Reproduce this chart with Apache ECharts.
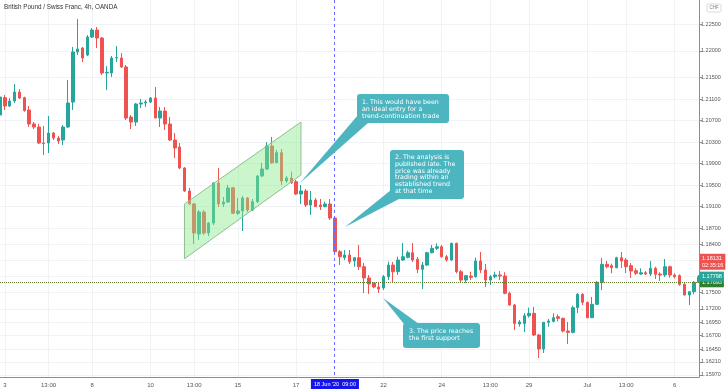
<!DOCTYPE html>
<html>
<head>
<meta charset="utf-8">
<script src="https://cdn.jsdelivr.net/npm/echarts@6/dist/echarts.min.js"></script>
<style>
html,body{margin:0;padding:0;background:#fff;}
#c{width:728px;height:391px;}
</style>
</head>
<body>
<div id="c"></div>
<script>
// ---- data ----
const title = "British Pound / Swiss Franc, 4h, OANDA";
// candles: [open, close, low, high], 4h bars
const candles = [
[1.20806,1.21141,1.20769,1.21179],
[1.21129,1.20974,1.20899,1.21179],
[1.20974,1.21067,1.20955,1.21123],
[1.21067,1.21234,1.21030,1.21383],
[1.21234,1.21123,1.21104,1.21290],
[1.21129,1.20887,1.20868,1.21147],
[1.20899,1.20639,1.20583,1.20974],
[1.20639,1.20583,1.20546,1.20676],
[1.20583,1.20285,1.20266,1.20639],
[1.20285,1.20275,1.20062,1.20602],
[1.20285,1.20471,1.20099,1.20788],
[1.20471,1.20378,1.20341,1.20490],
[1.20378,1.20322,1.20266,1.20415],
[1.20341,1.20583,1.20248,1.20620],
[1.20583,1.21030,1.20564,1.21458],
[1.21048,1.21979,1.20899,1.22072],
[1.21979,1.22035,1.21923,1.22593],
[1.22053,1.21867,1.21793,1.22072],
[1.21923,1.22258,1.21904,1.22295],
[1.22258,1.22388,1.22239,1.22426],
[1.22388,1.22239,1.22053,1.22444],
[1.22239,1.21588,1.21551,1.22258],
[1.21588,1.21600,1.21272,1.21718],
[1.21588,1.21867,1.21514,1.21904],
[1.21867,1.21875,1.21793,1.22091],
[1.21867,1.21700,1.21681,1.21960],
[1.21700,1.20750,1.20713,1.21737],
[1.20769,1.20676,1.20546,1.20806],
[1.20676,1.21011,1.20602,1.21030],
[1.21011,1.21030,1.20936,1.21104],
[1.21030,1.21048,1.20955,1.21085],
[1.21048,1.21123,1.21030,1.21141],
[1.21123,1.20750,1.20750,1.21327],
[1.20750,1.20880,1.20583,1.20955],
[1.20880,1.20639,1.20527,1.20955],
[1.20639,1.20341,1.20322,1.20769],
[1.20341,1.20192,1.20006,1.20471],
[1.20211,1.19820,1.19801,1.20285],
[1.19820,1.19392,1.19374,1.19838],
[1.19392,1.19150,1.19131,1.19448],
[1.19150,1.18610,1.18405,1.19168],
[1.18591,1.19001,1.18480,1.19038],
[1.19001,1.18610,1.18573,1.19038],
[1.18610,1.18796,1.18554,1.18815],
[1.18796,1.19541,1.18759,1.19550],
[1.19541,1.19150,1.19094,1.19820],
[1.19150,1.19187,1.19094,1.19280],
[1.19187,1.19448,1.19168,1.19505],
[1.19453,1.18977,1.18964,1.19466],
[1.18977,1.19020,1.18945,1.19261],
[1.19020,1.19261,1.18647,1.19298],
[1.19261,1.19038,1.19001,1.19280],
[1.19038,1.19193,1.19020,1.19243],
[1.19193,1.19671,1.19168,1.19690],
[1.19671,1.19801,1.19653,1.19913],
[1.19801,1.20229,1.19783,1.20304],
[1.20229,1.19918,1.19894,1.20397],
[1.19918,1.20105,1.19913,1.20155],
[1.20105,1.19578,1.19504,1.20174],
[1.19578,1.19634,1.19546,1.19671],
[1.19634,1.19546,1.19522,1.19751],
[1.19565,1.19336,1.19317,1.19597],
[1.19336,1.19392,1.19150,1.19504],
[1.19392,1.19131,1.19094,1.19429],
[1.19131,1.19224,1.18945,1.19392],
[1.19224,1.19100,1.19094,1.19261],
[1.19131,1.19100,1.19038,1.19243],
[1.19100,1.19150,1.19090,1.19193],
[1.19150,1.18889,1.18852,1.19243],
[1.18889,1.18262,1.18243,1.18908],
[1.18262,1.18169,1.18014,1.18294],
[1.18150,1.18201,1.18108,1.18294],
[1.18201,1.18076,1.18033,1.18294],
[1.18089,1.18150,1.17983,1.18164],
[1.18150,1.17983,1.17922,1.18387],
[1.17983,1.17773,1.17493,1.18052],
[1.17773,1.17661,1.17475,1.17829],
[1.17680,1.17605,1.17581,1.17686],
[1.17605,1.17568,1.17493,1.17680],
[1.17587,1.17797,1.17549,1.17829],
[1.17797,1.18014,1.17735,1.18076],
[1.18014,1.17890,1.17698,1.18070],
[1.17890,1.18108,1.17829,1.18169],
[1.18108,1.18169,1.18089,1.18424],
[1.18158,1.18243,1.18139,1.18281],
[1.18243,1.18108,1.18070,1.18424],
[1.18121,1.17935,1.17865,1.18164],
[1.17935,1.18014,1.17568,1.18070],
[1.18014,1.18243,1.17996,1.18262],
[1.18243,1.18325,1.18232,1.18387],
[1.18325,1.18355,1.18294,1.18418],
[1.18355,1.18169,1.18150,1.18387],
[1.18169,1.18108,1.18076,1.18201],
[1.18108,1.18418,1.18095,1.18430],
[1.18418,1.17890,1.17860,1.18430],
[1.17890,1.17735,1.17680,1.17922],
[1.17735,1.17816,1.17686,1.17829],
[1.17810,1.17785,1.17735,1.17890],
[1.17797,1.18089,1.17778,1.18150],
[1.18089,1.17922,1.17865,1.18257],
[1.17922,1.17735,1.17605,1.18033],
[1.17735,1.17797,1.17642,1.17829],
[1.17797,1.17829,1.17766,1.17890],
[1.17829,1.17810,1.17735,1.17903],
[1.17810,1.17488,1.17469,1.17879],
[1.17488,1.17270,1.17257,1.17518],
[1.17270,1.16926,1.16805,1.17289],
[1.16917,1.16954,1.16866,1.16991],
[1.16926,1.17071,1.16768,1.17121],
[1.17071,1.17115,1.17034,1.17220],
[1.17115,1.16712,1.16693,1.17234],
[1.16712,1.16451,1.16284,1.16730],
[1.16451,1.16948,1.16377,1.16954],
[1.16948,1.16972,1.16866,1.17010],
[1.16966,1.17034,1.16948,1.17115],
[1.17052,1.17022,1.16966,1.17096],
[1.17022,1.16786,1.16761,1.17034],
[1.16786,1.16761,1.16545,1.16954],
[1.16761,1.17220,1.16743,1.17257],
[1.17220,1.17469,1.17121,1.17493],
[1.17469,1.17320,1.17270,1.17488],
[1.17320,1.17034,1.17022,1.17332],
[1.17034,1.17283,1.17029,1.17419],
[1.17283,1.17693,1.17270,1.17717],
[1.17693,1.18027,1.17549,1.18144],
[1.18027,1.17983,1.17953,1.18089],
[1.18002,1.17964,1.17860,1.18039],
[1.17964,1.18150,1.17953,1.18169],
[1.18150,1.18089,1.17959,1.18257],
[1.18108,1.17983,1.17865,1.18144],
[1.18002,1.17903,1.17773,1.18052],
[1.17908,1.17860,1.17829,1.17953],
[1.17847,1.17871,1.17829,1.17953],
[1.17871,1.17847,1.17829,1.17903],
[1.17847,1.17953,1.17810,1.18089],
[1.17953,1.17841,1.17754,1.17983],
[1.17847,1.17829,1.17717,1.17879],
[1.17829,1.17983,1.17791,1.18126],
[1.17983,1.17829,1.17778,1.18002],
[1.17829,1.17797,1.17766,1.17860],
[1.17816,1.17655,1.17630,1.17841],
[1.17655,1.17457,1.17444,1.17693],
[1.17457,1.17518,1.17270,1.17531],
[1.17518,1.17693,1.17473,1.17717],
[1.17693,1.17798,1.17680,1.17830]
];
const categories = candles.map((_, i) => String(i));

// x-axis tick labels: bar index -> label
const xTickIdx    = [1, 10, 19, 31, 40, 49, 61, 79, 91, 101, 109, 121, 129, 139];
const xTickLabels = ["3","13:00","8","10","13:00","15","17","22","24","13:00","29","Jul","13:00","6"];

// y-axis price scale ticks
const yTickValues  = [1.2250,1.2200,1.2150,1.2110,1.2070,1.2030,1.1990,1.1950,1.1910,1.1870,1.1840,1.1810,1.1780,1.1750,1.1720,1.1695,1.1670,1.1645,1.1621,1.1597];
const yLabelValues = [1.2250,1.2200,1.2150,1.2110,1.2070,1.2030,1.1990,1.1950,1.1910,1.1870,1.1840,1.1750,1.1720,1.1695,1.1670,1.1645,1.1621,1.1597];
const yMin = 1.159302, yMax = 1.229467;

// price tags
const lastPrice   = 1.17798;
const greenPrice  = 1.17693;
const redPrice    = 1.18131;
const countdown   = "02:35:16";
// crosshair
const crossIdx    = 69;
const crossLabel  = "18 Jun '20  09:00";

// channel (bar index, price)
const channelPts = [[38, 1.19150], [62, 1.20676], [62, 1.19690], [38, 1.18131]];

// callouts
const callout1 = "1. This would have been\nan ideal entry for a\ntrend-continuation trade";
const callout2 = "2. The analysis is\npublished late. The\nprice was already\ntrading within an\nestablished trend\nat that time";
const callout3 = "3. The price reaches\nthe first support";

const UP = '#26a69a', DOWN = '#ef5350';
const chart = echarts.init(document.getElementById('c'), null, {renderer: 'canvas'});
const tagLabel = (text, bg, extra) => Object.assign({
  show: true, position: 'end', distance: 1, formatter: text, backgroundColor: bg,
  color: '#fff', fontSize: 5.5, padding: [2, 2], fontFamily: 'Liberation Sans'
}, extra || {});

const option = {
  animation: false,
  backgroundColor: '#ffffff',
  grid: {left: 0, right: 29, top: 0, bottom: 14, containLabel: false},
  xAxis: {
    type: 'category',
    data: categories,
    boundaryGap: false,
    axisLine: {show: true, lineStyle: {color: '#8a8d96', width: 1}},
    axisTick: {show: false},
    axisLabel: {
      interval: (i) => xTickIdx.includes(i),
      formatter: (v) => { const k = xTickIdx.indexOf(Number(v)); return k >= 0 ? xTickLabels[k] : ''; },
      fontSize: 6, color: '#555', margin: 5, fontFamily: 'Liberation Sans'
    },
    splitLine: {show: true, interval: (i) => xTickIdx.includes(i), lineStyle: {color: '#f0f2f6', width: 1}}
  },
  yAxis: {
    type: 'value',
    position: 'right',
    min: yMin, max: yMax,
    scale: true,
    axisLine: {show: true, lineStyle: {color: '#8a8d96', width: 1}},
    axisTick: {show: true, length: 3, customValues: yTickValues, lineStyle: {color: '#8a8d96'}},
    axisLabel: {
      customValues: yLabelValues,
      formatter: (v) => v.toFixed(5),
      fontSize: 5.5, color: '#555', margin: 2, fontFamily: 'Liberation Sans'
    },
    splitLine: {show: true, lineStyle: {color: '#f0f2f6', width: 1}}
  },
  series: [{
    type: 'candlestick',
    data: candles,
    barWidth: 3,
    itemStyle: {color: UP, color0: DOWN, borderColor: UP, borderColor0: DOWN, borderWidth: 1},
    markLine: {
      silent: true,
      precision: 5,
      symbol: ['none', 'none'],
      animation: false,
      data: [
        {yAxis: greenPrice, lineStyle: {type: 'dotted', color: '#5f7a30', width: 1},
         label: tagLabel(greenPrice.toFixed(5), '#2e7d32')},
        {yAxis: lastPrice, lineStyle: {color: 'rgba(0,0,0,0)', width: 0},
         label: tagLabel(lastPrice.toFixed(5), UP)},
        {yAxis: redPrice, lineStyle: {color: 'rgba(0,0,0,0)', width: 0},
         label: tagLabel(redPrice.toFixed(5) + '\n' + countdown, DOWN, {lineHeight: 7, padding: [1, 2], offset: [0, 3]})},
        {xAxis: String(crossIdx), lineStyle: {color: 'rgba(0,0,0,0)', width: 0},
         label: tagLabel(crossLabel, '#1414ee', {position: 'start', distance: 2, padding: [2, 3]})}
      ]
    }
  }]
};
chart.setOption(option);

// ---- annotations ----
const chPix = channelPts.map(p => chart.convertToPixel({gridIndex: 0}, p));
const crossX = Math.round(chart.convertToPixel({xAxisIndex: 0}, String(crossIdx))) - 0.5;
const gridBottom = chart.convertToPixel({yAxisIndex: 0}, yMin);
const TEAL = '#4db5c0';
const txtStyle = {fill: '#fff', fontSize: 6.3, lineHeight: 6.8, fontFamily: 'DejaVu Sans'};
chart.setOption({
  graphic: [
    {type: 'text', left: 4, top: 4, z: 200, style: {text: title, fill: '#333', fontSize: 6.3, fontFamily: 'Liberation Sans'}},
    {type: 'group', z: 200, children: [
      {type: 'rect', shape: {x: 707, y: 4, width: 14, height: 8, r: 1}, style: {fill: '#fff', stroke: '#cfd2d8', lineWidth: 0.8}},
      {type: 'text', x: 714, y: 8, style: {text: 'CHF', fill: '#777', fontSize: 4.5, align: 'center', verticalAlign: 'middle', fontFamily: 'Liberation Sans'}}
    ]},
    {type: 'line', z: 90, shape: {x1: crossX, y1: 0, x2: crossX, y2: gridBottom}, style: {stroke: '#6a6aff', lineWidth: 1, lineDash: [3, 3]}},
    {type: 'polygon', z: 100, shape: {points: chPix}, style: {fill: 'rgba(140,236,140,0.45)', stroke: '#8fbf8f', lineWidth: 1}},
    // callout 1
    {type: 'polygon', z: 110, shape: {points: [[300, 183], [358, 115], [368, 123]]}, style: {fill: TEAL}},
    {type: 'rect', z: 110, shape: {x: 357, y: 94, width: 92, height: 29, r: 3}, style: {fill: TEAL}},
    {type: 'text', z: 111, x: 362, y: 99, style: Object.assign({text: callout1}, txtStyle)},
    // callout 2
    {type: 'polygon', z: 110, shape: {points: [[345, 227], [391, 190], [399, 199]]}, style: {fill: TEAL}},
    {type: 'rect', z: 110, shape: {x: 390, y: 150, width: 74, height: 49, r: 3}, style: {fill: TEAL}},
    {type: 'text', z: 111, x: 395, y: 154, style: Object.assign({text: callout2}, txtStyle)},
    // callout 3
    {type: 'polygon', z: 110, shape: {points: [[383, 298], [404, 324], [419, 324]]}, style: {fill: TEAL}},
    {type: 'rect', z: 110, shape: {x: 403, y: 323, width: 77, height: 25, r: 3}, style: {fill: TEAL}},
    {type: 'text', z: 111, x: 409, y: 328, style: Object.assign({text: callout3}, txtStyle)}
  ]
});
</script>
</body>
</html>
